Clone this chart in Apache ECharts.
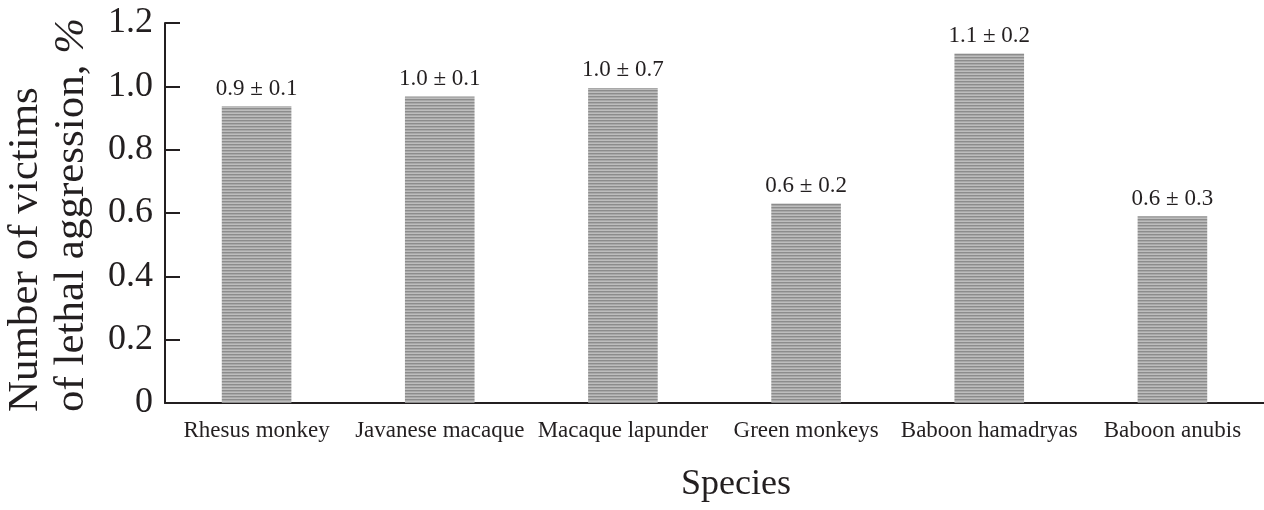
<!DOCTYPE html>
<html><head><meta charset="utf-8">
<script src="https://cdn.jsdelivr.net/npm/echarts@6/dist/echarts.min.js"></script>
<style>html,body{margin:0;padding:0;background:#fff}#c{width:1264px;height:510px}</style>
</head><body><div id="c"></div>
<script>
const categories = ['Rhesus monkey','Javanese macaque','Macaque lapunder','Green monkeys','Baboon hamadryas','Baboon anubis'];
const values = [0.937, 0.968, 0.995, 0.630, 1.104, 0.590];
const valueLabels = ['0.9 ± 0.1','1.0 ± 0.1','1.0 ± 0.7','0.6 ± 0.2','1.1 ± 0.2','0.6 ± 0.3'];
const yTicks = [0, 0.2, 0.4, 0.6, 0.8, 1.0, 1.2];
const yTitleLines = ['Number of victims', 'of lethal aggression, '];
const xTitle = 'Species';

const pc = document.createElement('canvas');
pc.width = 8; pc.height = 3;
const g = pc.getContext('2d');
const rows = ['#8c8c8c','#a8a8a8','#bdbdbd'];
rows.forEach((c,i)=>{g.fillStyle=c;g.fillRect(0,i,8,1);});

const serif = '"Liberation Serif","DejaVu Serif",serif';
const chart = echarts.init(document.getElementById('c'));
chart.setOption({
  animation:false,
  backgroundColor:'#fff',
  title:{text:xTitle,left:731,top:462,textAlign:'center',textStyle:{fontFamily:serif,fontSize:36,fontWeight:'normal',color:'#231f20'}},
  graphic:[{type:'text',x:3,y:412,rotation:Math.PI/2,
    style:{text:'{a|'+yTitleLines[0]+'}\n{a|'+yTitleLines[1]+'}{i|%}',align:'left',verticalAlign:'top',
      rich:{a:{fontFamily:serif,fontSize:43,fill:'#231f20',color:'#231f20',lineHeight:46},
            i:{fontFamily:serif,fontSize:43,fontStyle:'italic',fill:'#231f20',color:'#231f20',lineHeight:46}}}}],
  grid:{left:165,right:0,top:23,bottom:107,containLabel:false,outerBoundsMode:'none'},
  xAxis:{type:'category',data:categories,
    axisLine:{lineStyle:{color:'#231f20',width:2}},axisTick:{show:false},
    axisLabel:{fontFamily:serif,fontSize:23,color:'#231f20',margin:16,interval:0}},
  yAxis:{type:'value',min:0,max:1.2,interval:0.2,
    splitLine:{show:false},
    axisLine:{show:true,lineStyle:{color:'#231f20',width:2}},
    axisTick:{show:true,inside:true,length:15,lineStyle:{color:'#231f20',width:2}},
    axisLabel:{fontFamily:serif,fontSize:36,color:'#231f20',margin:12,
      formatter:v=>{const t=yTicks.find(x=>Math.abs(x-v)<1e-6);return t===0?'0':t.toFixed(1);}}},
  series:[{type:'bar',data:values,barWidth:'38%',
    itemStyle:{color:{image:pc,repeat:'repeat'}},
    label:{show:true,position:'top',distance:6,fontFamily:serif,fontSize:23,color:'#231f20',
      formatter:p=>valueLabels[p.dataIndex]}}]
});
</script></body></html>
